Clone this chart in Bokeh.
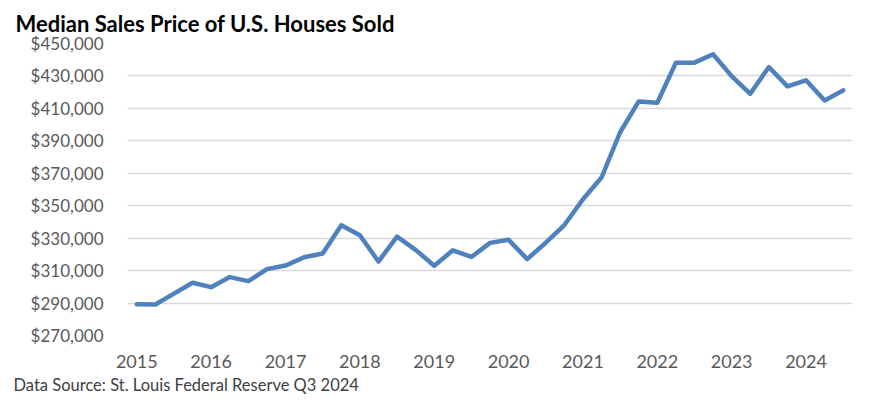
from bokeh.plotting import figure
from bokeh.models import FixedTicker, NumeralTickFormatter, Title, Range1d
from bokeh.embed import file_html
from bokeh.resources import INLINE

# Quarterly median sales price, 2015 Q1 .. 2024 Q3
quarters = [f"{y} Q{q}" for y in range(2015, 2025) for q in range(1, 5)][:39]
prices = [
    289200, 289100, 295800, 302500,
    299800, 306000, 303500, 310900,
    313100, 318200, 320500, 337900,
    331800, 315600, 330900, 322800,
    313000, 322500, 318400, 327100,
    329000, 317100, 327200, 338100,
    354000, 367400, 395300, 414300,
    413500, 438200, 438200, 443400,
    429900, 419000, 435500, 423600,
    427300, 414900, 421100,
]
year_labels = ["2015", "2016", "2017", "2018", "2019",
               "2020", "2021", "2022", "2023", "2024"]
y_ticks = [270000, 290000, 310000, 330000, 350000,
           370000, 390000, 410000, 430000, 450000]
title_text = "Median Sales Price of U.S. Houses Sold"
source_text = "Data Source: St. Louis Federal Reserve Q3 2024"

FONT = "Lato"
x = list(range(len(prices)))

p = figure(width=880, height=396, output_backend="svg", toolbar_location=None,
           x_range=Range1d(-0.5, len(prices) - 0.5),
           y_range=Range1d(y_ticks[0], y_ticks[-1]),
           min_border_left=127, min_border_right=28,
           min_border_top=43, min_border_bottom=61,
           title=title_text)

p.outline_line_color = None
p.background_fill_color = "white"
p.border_fill_color = "white"

p.title.align = "left"
p.title.vertical_align = "middle"
p.title.offset = -112
p.title.text_font = FONT
p.title.text_font_style = "bold"
p.title.text_font_size = "22px"
p.title.text_color = "#000000"
p.title.standoff = 11

p.line(x, prices, line_color="#4F81BD", line_width=4.5,
       line_join="round", line_cap="round")

# y axis
p.yaxis.ticker = FixedTicker(ticks=y_ticks)
p.yaxis.formatter = NumeralTickFormatter(format="$0,0")
p.yaxis.axis_line_color = None
p.yaxis.major_tick_line_color = None
p.yaxis.minor_tick_line_color = None
p.yaxis.major_label_standoff = 18
p.yaxis.major_label_text_font = FONT
p.yaxis.major_label_text_font_size = "17px"
p.yaxis.major_label_text_color = "#595959"

# x axis
xticks = [i for i, q in enumerate(quarters) if q.endswith("Q1")]
p.xaxis.ticker = FixedTicker(ticks=xticks)
p.xaxis.major_label_overrides = {t: lab for t, lab in zip(xticks, year_labels)}
p.xaxis.axis_line_color = None
p.xaxis.major_tick_line_color = None
p.xaxis.minor_tick_line_color = None
p.xaxis.major_label_standoff = 13
p.xaxis.major_label_text_font = FONT
p.xaxis.major_label_text_font_size = "18px"
p.xaxis.major_label_text_color = "#595959"

p.xgrid.visible = False
p.ygrid.grid_line_color = "#d9d9d9"
p.ygrid.grid_line_width = 1.5

footer = Title(text=source_text, align="left", offset=-114,
               text_font=FONT, text_font_style="normal",
               text_font_size="16.5px", text_color="#404040", standoff=4)
p.add_layout(footer, "below")

open("out.html", "w").write(file_html(p, INLINE))
